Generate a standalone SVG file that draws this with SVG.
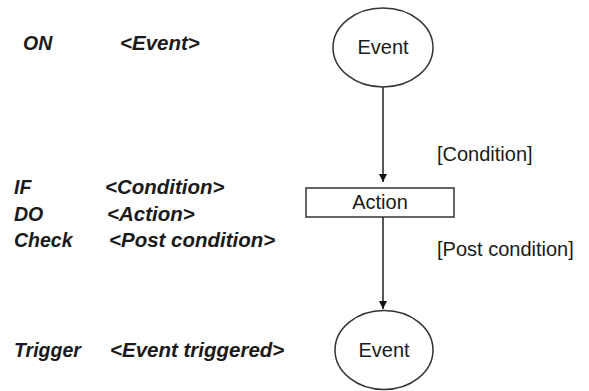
<svg xmlns="http://www.w3.org/2000/svg" width="589" height="391" viewBox="0 0 589 391">
  <style>
    .kw { font-family: "Liberation Sans", Arial, sans-serif; font-style: italic; font-weight: bold; font-size: 19.5px; fill: #1a1a1a; }
    .val { font-family: "Liberation Sans", Arial, sans-serif; font-style: italic; font-weight: bold; font-size: 20.5px; fill: #1a1a1a; }
    .node { fill: #ffffff; stroke: #333333; stroke-width: 1.5; }
    .lbl { font-family: "Liberation Sans", Arial, sans-serif; font-size: 20px; fill: #1a1a1a; text-anchor: middle; }
    .guard { font-family: "Liberation Sans", Arial, sans-serif; font-size: 20px; fill: #1a1a1a; }
    .edge { stroke: #222222; stroke-width: 1.5; fill: none; marker-end: url(#arrow); }
  </style>
  <defs>
    <marker id="arrow" viewBox="0 0 10 10" refX="10" refY="5" markerWidth="8" markerHeight="8" markerUnits="userSpaceOnUse" orient="auto">
      <path d="M0,0 L10,5 L0,10 Z" fill="#111111"/>
    </marker>
  </defs>
  <rect width="589" height="391" fill="#ffffff"/>

  <!-- rule text -->
  <g id="rule-text">
    <text class="kw" x="23" y="50">ON</text>
    <text class="val" x="120" y="50">&lt;Event&gt;</text>
    <text class="kw" x="14" y="194">IF</text>
    <text class="val" x="105" y="194">&lt;Condition&gt;</text>
    <text class="kw" x="14" y="221">DO</text>
    <text class="val" x="107" y="221">&lt;Action&gt;</text>
    <text class="kw" x="14" y="247">Check</text>
    <text class="val" x="109" y="247">&lt;Post condition&gt;</text>
    <text class="kw" x="14" y="357">Trigger</text>
    <text class="val" x="110" y="357">&lt;Event triggered&gt;</text>
  </g>

  <!-- connectors -->
  <g id="connectors">
    <line class="edge" x1="383" y1="87" x2="383" y2="182"/>
    <line class="edge" x1="383" y1="217" x2="383" y2="309"/>
    <text class="guard" x="437" y="161">[Condition]</text>
    <text class="guard" x="437" y="256">[Post condition]</text>
  </g>

  <g id="event-in">
    <ellipse class="node" cx="383" cy="47.5" rx="50" ry="39.5"/>
    <text class="lbl" x="383" y="54">Event</text>
  </g>

  <g id="action">
    <rect class="node" x="306" y="188" width="148" height="29"/>
    <text class="lbl" x="380" y="209">Action</text>
  </g>

  <g id="event-out">
    <ellipse class="node" cx="384" cy="350" rx="49" ry="39.5"/>
    <text class="lbl" x="384" y="357">Event</text>
  </g>
</svg>
